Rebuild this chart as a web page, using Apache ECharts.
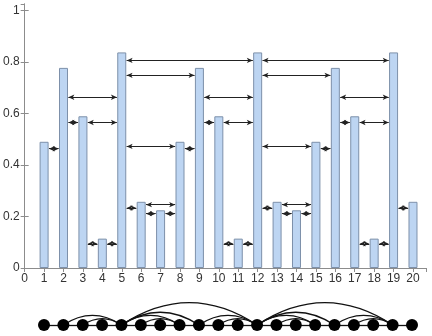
<!DOCTYPE html>
<html>
<head>
<meta charset="utf-8">
<script src="https://cdn.jsdelivr.net/npm/echarts@6/dist/echarts.min.js"></script>
<style>html,body{margin:0;padding:0;background:#fff}#c{width:432px;height:336px}</style>
</head>
<body>
<div id="c"></div>
<script>
// Data
const categories = [1,2,3,4,5,6,7,8,9,10,11,12,13,14,15,16,17,18,19,20];
const values = [0.49,0.777,0.589,0.114,0.837,0.257,0.224,
                0.49,0.777,0.589,0.114,0.837,0.257,0.224,
                0.49,0.777,0.589,0.114,0.837,0.257];
const arrowFrom = [1,2,2,3,3,4,5,6,6,7,5,8,5,5,9,9,10,10,11,12,13,13,14,12,15,12,12,16,16,17,17,18,19];
const arrowTo   = [2,3,5,5,4,5,6,8,7,8,8,9,9,12,10,12,12,11,12,13,15,14,15,15,16,16,19,17,19,19,18,19,20];
const arrowY    = [0.463,0.565,0.663,0.565,0.094,0.094,0.233,0.246,0.211,0.211,0.472,0.463,0.748,0.806,
                   0.565,0.663,0.565,0.094,0.094,0.233,0.246,0.211,0.211,0.472,0.463,0.748,0.806,
                   0.565,0.663,0.565,0.094,0.094,0.233];
const yTicks = [0,0.2,0.4,0.6,0.8,1];

const chart = echarts.init(document.getElementById('c'));
const font = 'Liberation Sans, Arial, sans-serif';
const axisCol = '#8c8c8c';
const gap = 0.25;

const markData = arrowFrom.map((a, i) => [
  {coord: [a + gap, arrowY[i]]},
  {coord: [arrowTo[i] - gap, arrowY[i]]}
]);

const nodes = categories.map(c => [c, 0]);
const links = arrowFrom.map((a, i) => ({
  source: a - 1, target: arrowTo[i] - 1,
  lineStyle: {curveness: (arrowTo[i] - a > 1) ? 0.33 : 0}
}));

chart.setOption({
  animation: false,
  grid: [
    {left: 23, right: 6, top: 4, bottom: 68, show: false},
    {left: 44, right: 20, top: 290, bottom: 11, show: false}
  ],
  xAxis: [
    {type: 'value', gridIndex: 0, min: 0, max: 20.67, interval: 1, position: 'bottom',
     axisLine: {show: true, lineStyle: {color: axisCol}},
     axisTick: {show: true, inside: true, length: 4, lineStyle: {color: axisCol}},
     splitLine: {show: false},
     axisLabel: {color: '#333', fontSize: 12, fontFamily: font, margin: 5, showMaxLabel: false,
                 formatter: v => String(v)}},
    {type: 'value', gridIndex: 0, min: 0, max: 20.67, interval: 1, position: 'top',
     axisLine: {show: true, lineStyle: {color: axisCol}},
     axisTick: {show: true, inside: true, length: 4, lineStyle: {color: axisCol}},
     splitLine: {show: false}, axisLabel: {show: false}},
    {type: 'value', gridIndex: 1, min: 1, max: 20, show: false}
  ],
  yAxis: [
    {type: 'value', gridIndex: 0, min: 0, max: 1.025, interval: 0.2, position: 'left',
     axisLine: {show: true, lineStyle: {color: axisCol}},
     axisTick: {show: true, inside: true, length: 4, lineStyle: {color: axisCol}},
     splitLine: {show: false},
     axisLabel: {color: '#333', fontSize: 12, fontFamily: font, margin: 5, showMaxLabel: false,
                 formatter: v => (yTicks.some(t => Math.abs(t - v) < 1e-6) ? String(+v.toFixed(1)) : '')}},
    {type: 'value', gridIndex: 0, min: 0, max: 1.025, interval: 0.2, position: 'right',
     axisLine: {show: true, lineStyle: {color: axisCol}},
     axisTick: {show: true, inside: true, length: 4, lineStyle: {color: axisCol}},
     splitLine: {show: false}, axisLabel: {show: false}},
    {type: 'value', gridIndex: 1, min: 0, max: 1, show: false}
  ],
  series: [
    {
      type: 'bar', xAxisIndex: 0, yAxisIndex: 0,
      data: categories.map((c, i) => [c, values[i]]),
      barWidth: 9,
      itemStyle: {color: '#bdd5f2', borderColor: '#7d90aa', borderWidth: 1},
      silent: true,
      markLine: {
        silent: true,
        symbol: ['arrow', 'arrow'],
        symbolSize: [4, 6],
        label: {show: false},
        lineStyle: {color: '#222', width: 1, type: 'solid'},
        data: markData
      }
    },
    {
      type: 'graph', coordinateSystem: 'cartesian2d', xAxisIndex: 2, yAxisIndex: 2,
      symbol: 'circle', symbolSize: 12,
      itemStyle: {color: '#000'},
      label: {show: false},
      lineStyle: {color: '#111', width: 1.3, opacity: 1},
      data: nodes,
      links: links,
      silent: true
    }
  ]
});
</script>
</body>
</html>
